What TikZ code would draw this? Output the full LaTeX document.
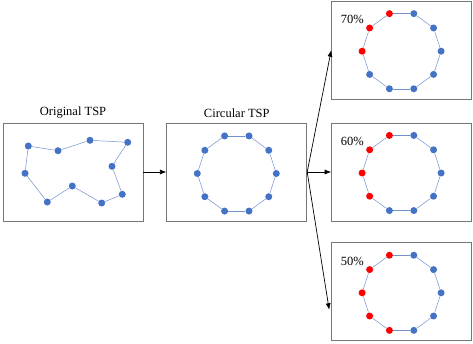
\documentclass[tikz,border=0pt]{standalone}
\usepackage{fontspec}
\setmainfont{Liberation Serif}
\usepackage{tikz}
\usetikzlibrary{arrows,arrows.meta,positioning,calc}
\definecolor{dotblue}{RGB}{68,114,196}
\definecolor{linkblue}{RGB}{112,146,208}
\definecolor{framegray}{RGB}{118,118,118}

\begin{document}
\begin{tikzpicture}[x=1pt, y=-1pt, >={Latex[length=6.5pt,width=5pt]}]
  \tikzstyle{panel} = [rectangle, draw=framegray, line width=0.8pt, minimum width=140pt, minimum height=98pt, inner sep=0pt]
  \tikzstyle{city} = [circle, fill=dotblue, inner sep=0pt, minimum size=7pt]
  \tikzstyle{tour} = [draw=linkblue, line width=0.5pt]
  \tikzstyle{title} = [font=\fontsize{12.5}{14}\selectfont]

  \useasboundingbox (0,0) rectangle (473,343);

  % panels
  \node[panel] (orig) at (73,172) {};
  \node[panel] (circ) [right=23pt of orig] {};
  \node[panel] (p60) [right=24pt of circ] {};
  \node[panel] (p70) [above=23pt of p60] {};
  \node[panel] (p50) [below=21pt of p60] {};

  \node[title] (orig_label) [above=1pt of orig] {Original TSP};
  \node[title] (circ_label) [above=1pt of circ] {Circular TSP};

  % random tour
  \node[city] (o1) at (28.3,146) {};
  \node[city] (o2) at (58,150.7) {};
  \node[city] (o3) at (90,140.3) {};
  \node[city] (o4) at (127.7,142.3) {};
  \node[city] (o5) at (112,166.3) {};
  \node[city] (o6) at (122.3,194.3) {};
  \node[city] (o7) at (101.7,203) {};
  \node[city] (o8) at (72.3,186) {};
  \node[city] (o9) at (47.3,202) {};
  \node[city] (o10) at (25,173.3) {};
  \draw[tour] (o1) -- (o2) -- (o3) -- (o4) -- (o5) -- (o6) -- (o7) -- (o8) -- (o9) -- (o10) -- (o1);

  % circular tour
  \foreach \k in {0,...,9}
    \node[city] (circ-\k) at ($(circ.center)+(0,-1.5pt)+(\k*36:39.5pt)$) {};
  \foreach \k in {0,...,9} {
    \pgfmathtruncatemacro\nxt{mod(\k+1,10)}
    \draw[tour] (circ-\k) -- (circ-\nxt);
  }

  % coloured tours
  \foreach \p/\last/\pct in {p70/5/70, p60/6/60, p50/7/50} {
    \node[title] (\p_label) at ($(\p.north west)+(21pt,-19pt)$) {\pct\%};
    \foreach \k in {0,...,9} {
      \ifnum\k<3 \def\fillc{dotblue}\else\ifnum\k>\last \def\fillc{dotblue}\else\def\fillc{red}\fi\fi
      \node[city, fill=\fillc] (\p-\k) at ($(\p.center)+(0,-1pt)+(\k*36:39.5pt)$) {};
    }
    \foreach \k in {0,...,9} {
      \pgfmathtruncatemacro\nxt{mod(\k+1,10)}
      \draw[tour] (\p-\k) -- (\p-\nxt);
    }
  }

  % arrows
  \draw[->, line width=0.7pt] (orig) -- (circ);
  \draw[->, line width=0.7pt] (circ.east) -- (p70.west);
  \draw[->, line width=0.7pt] (circ.east) -- (p60.west);
  \draw[->, line width=0.7pt] (circ.east) -- ([xshift=-2pt, yshift=-18pt]p50.west);
\end{tikzpicture}
\end{document}
